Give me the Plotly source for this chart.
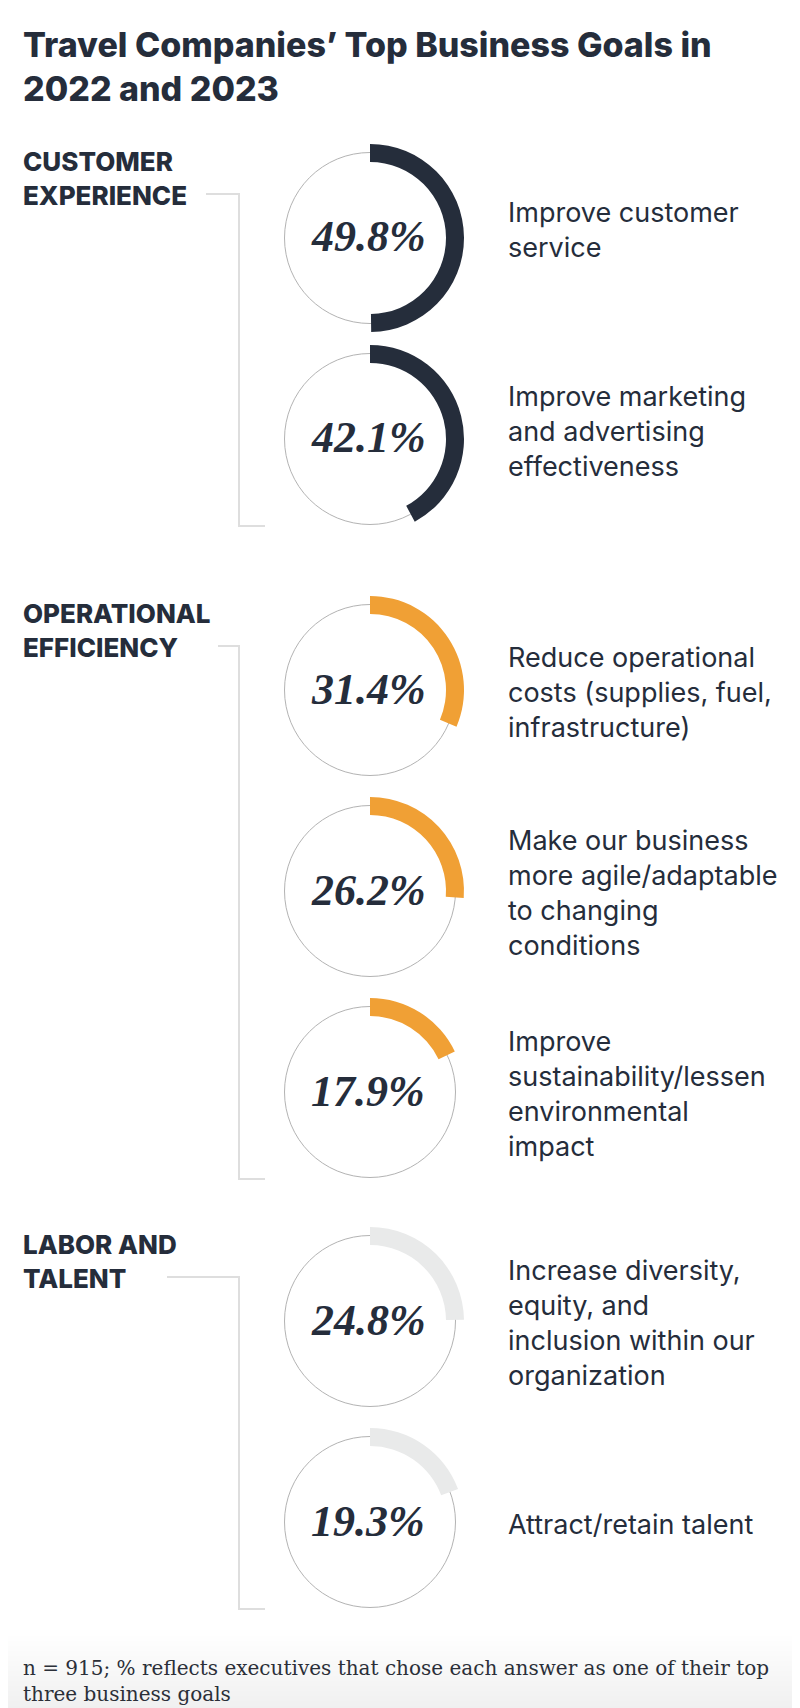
import plotly.graph_objects as go

# data
groups = ['CUSTOMER<br>EXPERIENCE', 'OPERATIONAL<br>EFFICIENCY', 'LABOR AND<br>TALENT']
group_of_goal = [0, 0, 1, 1, 1, 2, 2]
goals = [
    'Improve customer<br>service',
    'Improve marketing<br>and advertising<br>effectiveness',
    'Reduce operational<br>costs (supplies, fuel,<br>infrastructure)',
    'Make our business<br>more agile/adaptable<br>to changing<br>conditions',
    'Improve<br>sustainability/lessen<br>environmental<br>impact',
    'Increase diversity,<br>equity, and<br>inclusion within our<br>organization',
    'Attract/retain talent',
]
shares = [49.8, 42.1, 31.4, 26.2, 17.9, 24.8, 19.3]

title = 'Travel Companies’ Top Business Goals in<br>2022 and 2023'
note = ('n = 915; % reflects executives that chose each answer as one of their top<br>'
        'three business goals')

# layout (pixels)
W, H = 800, 1708
group_colors = ['#252d3b', '#f0a035', '#e9eaea']
cx = 362
first_cy = 230
pitch = 201
group_gap = [0, 50, 28]
r_out, r_in, r_thin = 94, 76, 85.5
bracket_x = 231
bracket_x0 = [198, 210, 159]
text_color = '#252d3b'


def px(x):
    return x / W


def py(y):
    return 1 - y / H


# row centres
centers = []
y = first_cy - pitch
prev_g = 0
for g in group_of_goal:
    y += pitch + (group_gap[g] if g != prev_g else 0)
    prev_g = g
    centers.append(y)

fig = go.Figure()
shapes = []
annotations = []

# faint grey fade at the bottom of the page
for k in range(16):
    shapes.append(dict(
        type='rect', xref='paper', yref='paper', layer='below',
        x0=0, x1=1, y0=0, y1=py(1628 + k * 5),
        fillcolor='rgba(0,0,0,0.0045)', line=dict(width=0),
    ))

for i, (val, lab, g) in enumerate(zip(shares, goals, group_of_goal)):
    cy = centers[i]
    fig.add_trace(go.Pie(
        values=[val, 100 - val],
        marker=dict(colors=[group_colors[g], 'rgba(0,0,0,0)'], line=dict(width=0)),
        hole=r_in / r_out,
        sort=False,
        direction='clockwise',
        rotation=0,
        textinfo='none',
        hoverinfo='skip',
        showlegend=False,
        domain=dict(x=[px(cx - r_out), px(cx + r_out)], y=[py(cy + r_out), py(cy - r_out)]),
    ))
    shapes.append(dict(
        type='circle', xref='paper', yref='paper', layer='below',
        x0=px(cx - r_thin), x1=px(cx + r_thin), y0=py(cy + r_thin), y1=py(cy - r_thin),
        line=dict(color='#b3b3b3', width=1),
    ))
    annotations.append(dict(
        text=f'{val:.1f}%', x=px(cx - 2), y=py(cy - 1),
        xanchor='center', yanchor='middle', showarrow=False,
        font=dict(family='Liberation Serif', size=44, color=text_color,
                  weight='bold', style='italic'),
    ))
    shift = -8 if g == 0 else 2
    annotations.append(dict(
        text=lab, x=px(498), y=py(cy + shift), align='left',
        xanchor='left', yanchor='middle', showarrow=False,
        font=dict(family='Inter', size=27, color=text_color),
    ))

for g, name in enumerate(groups):
    rows = [i for i, gg in enumerate(group_of_goal) if gg == g]
    top = centers[rows[0]]
    bottom = centers[rows[-1]]
    annotations.append(dict(
        text=name, x=px(13), y=py(top - 60), align='left',
        xanchor='left', yanchor='middle', showarrow=False,
        font=dict(family='Inter', size=26, color=text_color, weight=800),
    ))
    y0 = top - 44
    y1 = bottom + 87
    shapes.append(dict(
        type='path', xref='paper', yref='paper', layer='below',
        path=(f'M {px(bracket_x0[g])},{py(y0)} L {px(bracket_x)},{py(y0)} '
              f'L {px(bracket_x)},{py(y1)} L {px(bracket_x + 26)},{py(y1)}'),
        line=dict(color='#dedede', width=2),
    ))

annotations.append(dict(
    text=title, x=px(13), y=py(58), align='left',
    xanchor='left', yanchor='middle', showarrow=False,
    font=dict(family='Inter', size=34, color=text_color, weight=800),
))
annotations.append(dict(
    text=note, x=px(13), y=py(1673), align='left',
    xanchor='left', yanchor='middle', showarrow=False,
    font=dict(family='DejaVu Serif', size=20, color='#2b2f38'),
))

fig.update_layout(
    width=W, height=H,
    margin=dict(l=0, r=0, t=0, b=0),
    paper_bgcolor='white', plot_bgcolor='white',
    shapes=shapes, annotations=annotations,
)

fig.write_html('out.html')
